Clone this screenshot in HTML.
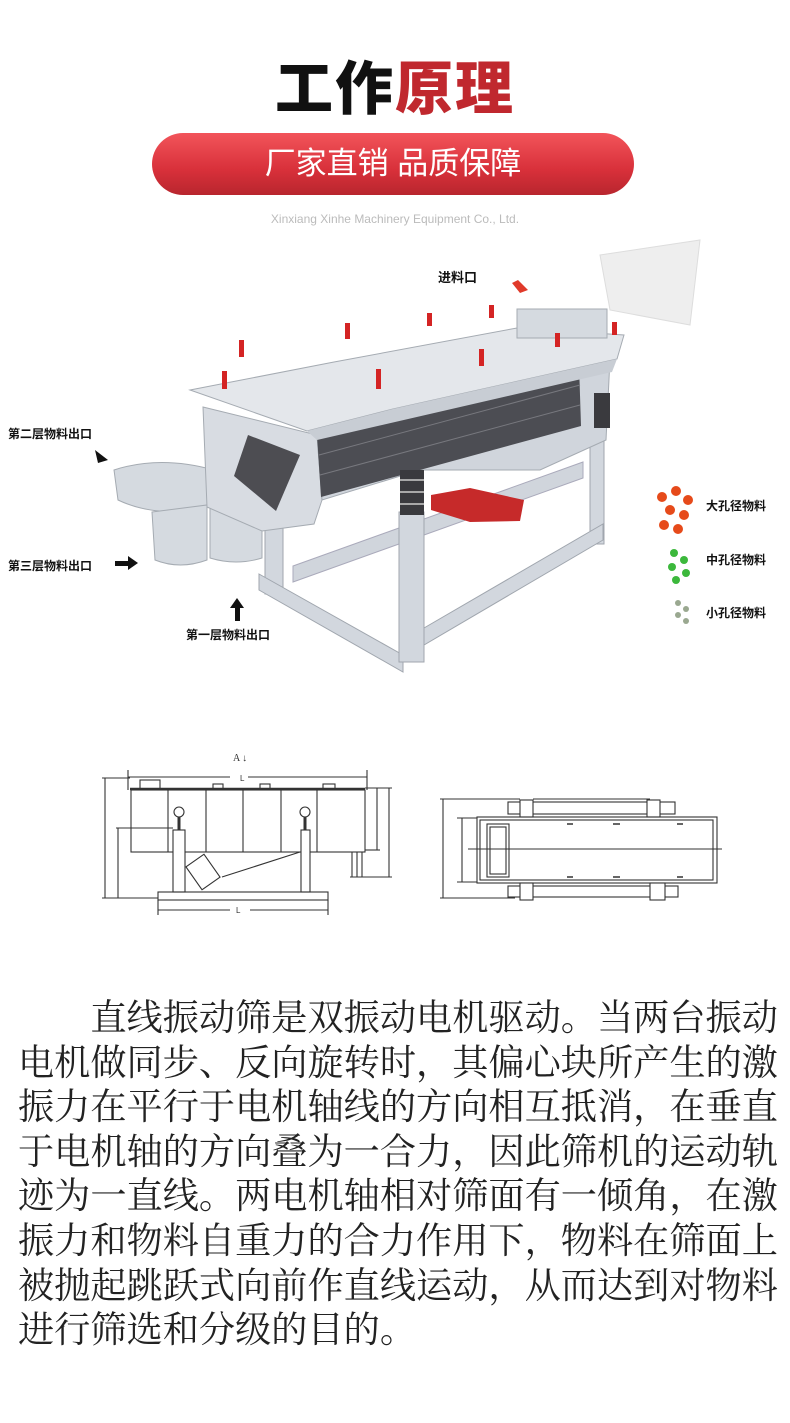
<!DOCTYPE html>
<html><head><meta charset="utf-8"><style>
body{margin:0;width:790px;height:1423px;background:#fff;position:relative;overflow:hidden;font-family:"Liberation Sans","Noto Sans CJK SC",sans-serif}
.a{position:absolute}
.title{left:0;width:790px;top:55px;text-align:center;font-size:58px;font-weight:900;letter-spacing:2px;line-height:70px}
.pill{left:152px;top:133px;width:482px;height:62px;border-radius:31px;background:linear-gradient(#f2545a,#d8303a 60%,#b8262e);color:#fff;font-size:31px;text-align:center;line-height:62px}
.sub{left:0;width:790px;top:212px;text-align:center;font-size:12px;color:#bbb}
.p{left:18px;top:996px;width:790px;font-family:"Liberation Serif","Noto Serif CJK SC",serif;font-size:36.2px;line-height:44.6px;color:#222;white-space:nowrap}
.lb{font-size:12px;font-weight:bold;color:#111}
</style></head><body>
<div class="a title"><span style="color:#111">工作</span><span style="color:#c0282e">原理</span></div>
<div class="a pill">厂家直销 品质保障</div>
<div class="a sub">Xinxiang Xinhe Machinery Equipment Co., Ltd.</div>

<svg class="a" style="left:0;top:235px" width="790" height="440">
<g transform="translate(0,-235)">
<path d="M600 255 L700 240 L690 325 L610 310 Z" fill="#eee" stroke="#ddd"/>
<!-- back rail -->
<polygon points="293,566 583,462 583,478 293,582" fill="#d0d5dc" stroke="#aab"/>
<!-- legs -->
<g fill="#d2d7de" stroke="#a0a6ae">
<rect x="265" y="526" width="18" height="68"/>
<rect x="590" y="426" width="14" height="118"/>
<polygon points="259,574 403,655 403,672 259,590"/>
<polygon points="424,628 603,524 603,540 424,645"/>
<rect x="399" y="512" width="25" height="150"/>
</g>
<!-- outlets -->
<g fill="#d5dae0" stroke="#a5abb2">
<path d="M114 470 Q160 455 214 470 L214 505 Q160 520 118 500 Z"/>
<path d="M152 512 L207 505 L207 560 Q180 570 155 560 Z"/>
<path d="M210 505 L262 505 L262 558 Q236 566 210 558 Z"/>
</g>
<!-- body -->
<polygon points="203,407 317,435 322,500 314,524 262,531 207,507" fill="#d8dce2" stroke="#a5abb2"/>
<polygon points="317,435 579,364 610,359 606,440 540,470 420,470 322,500" fill="#d0d5dc" stroke="#a5abb2"/>
<polygon points="317,435 579,364 581,426 321,497" fill="#4c4d53"/>
<g stroke="#77787e" stroke-width="1">
<line x1="319" y1="455" x2="580" y2="385"/><line x1="320" y1="475" x2="580" y2="405"/>
</g>
<polygon points="248,435 300,455 276,511 234,476" fill="#4d4d52"/>
<polygon points="190,390 334,362 517,328 624,335 617,359 393,409 307,431" fill="#e4e7eb" stroke="#a5abb2"/>
<polygon points="307,431 393,409 617,359 612,372 317,440" fill="#c8cdd4"/>
<rect x="517" y="309" width="90" height="29" fill="#d5dae0" stroke="#a5abb2"/>
<polygon points="431,495 470,488 524,500 520,521 470,522 431,510" fill="#c62a2a"/>
<!-- springs -->
<g fill="#3a3a3e"><rect x="400" y="470" width="24" height="45"/><rect x="594" y="393" width="16" height="35"/></g>
<g stroke="#ccc" stroke-width="1.5"><line x1="400" y1="480" x2="424" y2="480"/><line x1="400" y1="492" x2="424" y2="492"/><line x1="400" y1="504" x2="424" y2="504"/></g>
<!-- handles -->
<g fill="#d42424">
<rect x="239" y="340" width="5" height="17"/><rect x="345" y="323" width="5" height="16"/><rect x="427" y="313" width="5" height="13"/>
<rect x="489" y="305" width="5" height="13"/><rect x="612" y="322" width="5" height="13"/><rect x="222" y="371" width="5" height="18"/>
<rect x="376" y="369" width="5" height="20"/><rect x="479" y="349" width="5" height="17"/><rect x="555" y="333" width="5" height="14"/>
</g>
<polygon points="518,280 528,290 520,293 512,283" fill="#e03a2a"/>
<g fill="#111"><polygon points="95,450 108,460 98,463"/><rect x="115" y="561" width="14" height="5"/><polygon points="128,556 138,563 128,570"/><rect x="235" y="607" width="5" height="14"/><polygon points="230,608 237,598 244,608"/></g>
<g fill="#e64a1a"><circle cx="662" cy="497" r="5"/><circle cx="676" cy="491" r="5"/><circle cx="688" cy="500" r="5"/><circle cx="670" cy="510" r="5"/><circle cx="684" cy="515" r="5"/><circle cx="664" cy="525" r="5"/><circle cx="678" cy="529" r="5"/></g>
<g fill="#3cb83c"><circle cx="674" cy="553" r="4"/><circle cx="684" cy="560" r="4"/><circle cx="672" cy="567" r="4"/><circle cx="686" cy="573" r="4"/><circle cx="676" cy="580" r="4"/></g>
<g fill="#9aa890"><circle cx="678" cy="603" r="3"/><circle cx="686" cy="609" r="3"/><circle cx="678" cy="615" r="3"/><circle cx="686" cy="621" r="3"/></g>
</g>
</svg>
<div class="a lb" style="left:438px;top:267px;font-size:13px">进料口</div>
<div class="a lb" style="left:8px;top:425px">第二层物料出口</div>
<div class="a lb" style="left:8px;top:557px">第三层物料出口</div>
<div class="a lb" style="left:186px;top:626px">第一层物料出口</div>
<div class="a lb" style="left:706px;top:497px">大孔径物料</div>
<div class="a lb" style="left:706px;top:551px">中孔径物料</div>
<div class="a lb" style="left:706px;top:604px">小孔径物料</div>

<svg class="a" style="left:0;top:740px" width="790" height="190" fill="none" stroke="#333" stroke-width="1.1">
<g transform="translate(0,-740)">
<text x="233" y="761" font-size="10" font-family="Liberation Serif" fill="#333" stroke="none">A ↓</text>
<line x1="128" y1="777" x2="230" y2="777"/><line x1="248" y1="777" x2="367" y2="777"/>
<text x="240" y="781" font-size="8" fill="#333" stroke="none">L</text>
<line x1="128" y1="770" x2="128" y2="790"/><line x1="367" y1="770" x2="367" y2="790"/>
<rect x="140" y="780" width="20" height="9"/><rect x="213" y="784" width="10" height="5"/><rect x="260" y="784" width="10" height="5"/><rect x="323" y="784" width="12" height="5"/>
<line x1="130" y1="789" x2="365" y2="789" stroke-width="2.5"/>
<rect x="131" y="790" width="234" height="62"/>
<line x1="168" y1="790" x2="168" y2="852"/><line x1="206" y1="790" x2="206" y2="852"/><line x1="243" y1="790" x2="243" y2="852"/><line x1="281" y1="790" x2="281" y2="852"/><line x1="317" y1="790" x2="317" y2="852"/>
<circle cx="179" cy="812" r="5"/><circle cx="305" cy="812" r="5"/>
<line x1="179" y1="817" x2="179" y2="830" stroke-width="3"/><line x1="305" y1="817" x2="305" y2="830" stroke-width="3"/>
<rect x="173" y="830" width="12" height="62" fill="#fff"/><rect x="301" y="830" width="9" height="62" fill="#fff"/>
<rect x="158" y="892" width="170" height="8"/>
<line x1="158" y1="910" x2="230" y2="910"/><line x1="250" y1="910" x2="328" y2="910"/><line x1="158" y1="900" x2="158" y2="915"/><line x1="328" y1="900" x2="328" y2="915"/>
<text x="236" y="913" font-size="8" fill="#333" stroke="none">L</text>
<line x1="222" y1="877" x2="300" y2="852"/>
<rect x="192" y="858" width="22" height="28" transform="rotate(-35 203 872)"/>
<line x1="352" y1="852" x2="352" y2="877"/><line x1="357" y1="852" x2="357" y2="877"/><line x1="362" y1="852" x2="362" y2="877"/>
<line x1="105" y1="778" x2="105" y2="898"/><line x1="102" y1="778" x2="130" y2="778"/><line x1="102" y1="898" x2="158" y2="898"/>
<line x1="118" y1="828" x2="118" y2="898"/><line x1="116" y1="828" x2="173" y2="828"/>
<line x1="377" y1="788" x2="377" y2="850"/><line x1="389" y1="788" x2="389" y2="877"/>
<line x1="365" y1="788" x2="392" y2="788"/><line x1="365" y1="850" x2="380" y2="850"/><line x1="350" y1="877" x2="392" y2="877"/>

<line x1="443" y1="799" x2="443" y2="898"/><line x1="440" y1="799" x2="520" y2="799"/><line x1="533" y1="799" x2="650" y2="799"/><line x1="440" y1="898" x2="515" y2="898"/>
<rect x="508" y="802" width="167" height="12"/>
<rect x="520" y="800" width="13" height="17" fill="#fff"/><rect x="647" y="800" width="13" height="17" fill="#fff"/>
<rect x="477" y="817" width="240" height="66"/><rect x="480" y="820" width="233" height="60"/>
<line x1="462" y1="818" x2="462" y2="882"/><line x1="457" y1="818" x2="477" y2="818"/><line x1="457" y1="882" x2="477" y2="882"/>
<rect x="487" y="824" width="22" height="53"/><rect x="490" y="827" width="16" height="47"/>
<line x1="468" y1="849" x2="722" y2="849"/>
<g stroke-width="1.5"><line x1="567" y1="824" x2="573" y2="824"/><line x1="613" y1="824" x2="620" y2="824"/><line x1="677" y1="824" x2="683" y2="824"/>
<line x1="567" y1="877" x2="573" y2="877"/><line x1="613" y1="877" x2="620" y2="877"/><line x1="677" y1="877" x2="683" y2="877"/></g>
<rect x="508" y="886" width="170" height="11"/>
<rect x="520" y="883" width="13" height="17" fill="#fff"/><rect x="650" y="883" width="15" height="17" fill="#fff"/>
</g>
</svg>

<div class="a p">　　直线振动筛是双振动电机驱动。当两台振动<br>电机做同步、反向旋转时，其偏心块所产生的激<br>振力在平行于电机轴线的方向相互抵消，在垂直<br>于电机轴的方向叠为一合力，因此筛机的运动轨<br>迹为一直线。两电机轴相对筛面有一倾角，在激<br>振力和物料自重力的合力作用下，物料在筛面上<br>被抛起跳跃式向前作直线运动，从而达到对物料<br>进行筛选和分级的目的。</div>
</body></html>
